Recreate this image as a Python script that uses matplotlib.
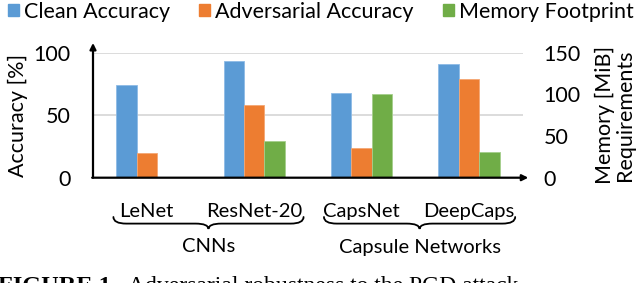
import matplotlib
matplotlib.use("Agg")
import matplotlib.pyplot as plt
import numpy as np
from matplotlib.patches import Patch, PathPatch
from matplotlib.path import Path
import matplotlib.transforms as mtransforms

# ---- data ----
models = ["LeNet", "ResNet-20", "CapsNet", "DeepCaps"]
clean_acc = [74, 93, 68, 91]
adv_acc = [20, 58, 24, 79]
memory_mib = [0.3, 44, 101, 31]
groups = ["CNNs", "Capsule Networks"]
acc_ticks = [0, 50, 100]
mem_ticks = [0, 50, 100, 150]

C_BLUE = "#5B9BD5"
C_ORANGE = "#ED7D31"
C_GREEN = "#70AD47"
FONT = "Lato"
FS = 15.5
FS_X = 14.5

plt.rcParams["font.family"] = [FONT, "DejaVu Sans"]

W, H = 640, 283
fig = plt.figure(figsize=(W / 100, H / 100), dpi=100)
x0, x1, ybot, ytop = 93, 522.7, 177.7, 52.7
ax = fig.add_axes([x0 / W, 1 - ybot / H, (x1 - x0) / W, (ybot - ytop) / H])
ax2 = ax.twinx()

x = np.arange(len(models))
w = 0.19
ax.bar(x - w, clean_acc, w, color=C_BLUE, edgecolor="#8dbbe6", linewidth=0.6, zorder=3)
ax.bar(x, adv_acc, w, color=C_ORANGE, edgecolor="#f4a774", linewidth=0.6, zorder=3)
ax2.bar(x + w, memory_mib, w, color=C_GREEN, edgecolor="#a5cf8c", linewidth=0.6, zorder=3)

ax.set_xlim(-0.5, len(models) - 0.5)
ax.set_ylim(0, 100)
ax2.set_ylim(0, 150)
ax.set_yticks(acc_ticks)
ax2.set_yticks(mem_ticks)
ax.yaxis.grid(True, color="#d9d9d9", lw=1.3, zorder=0)
ax.set_axisbelow(True)
for a in (ax, ax2):
    for s in a.spines.values():
        s.set_visible(False)
ax.tick_params(axis="y", length=0, pad=16, labelsize=FS)
ax2.tick_params(axis="y", length=0, pad=15, labelsize=FS)
ax.set_xticks(x)
ax.set_xticklabels(models)
ax.tick_params(axis="x", length=0, pad=18, labelsize=FS_X)

ax.set_ylabel("Accuracy [%]", fontsize=FS, labelpad=4)
ax2.set_ylabel("Memory [MiB]\nRequirements", fontsize=FS, labelpad=10, linespacing=1.0)

# axis arrows
arrow = dict(arrowstyle="-|>", lw=1.6, color="black", mutation_scale=9, shrinkA=0, shrinkB=0)
ax2.annotate("", xy=(0, 1.078), xytext=(0, 0), xycoords="axes fraction",
             arrowprops=arrow, annotation_clip=False)
ax2.annotate("", xy=(1.013, 0), xytext=(-0.002, 0), xycoords="axes fraction",
             arrowprops=arrow, annotation_clip=False)

# braces
trans = mtransforms.blended_transform_factory(ax.transData, ax.transAxes)
def brace(xa, xb, ytop_ax, h):
    xm = (xa + xb) / 2
    r = 0.12
    ymid = ytop_ax - h * 0.55
    ybtm = ytop_ax - h
    verts = [(xa, ytop_ax), (xa, ymid), (xa + r, ymid),
             (xm - r, ymid),
             (xm, ymid), (xm, ybtm),
             (xm, ymid), (xm + r, ymid),
             (xb - r, ymid),
             (xb, ymid), (xb, ytop_ax)]
    codes = [Path.MOVETO, Path.CURVE3, Path.CURVE3,
             Path.LINETO,
             Path.CURVE3, Path.CURVE3,
             Path.CURVE3, Path.CURVE3,
             Path.LINETO,
             Path.CURVE3, Path.CURVE3]
    p = PathPatch(Path(verts, codes), transform=trans, fill=False, lw=1.3,
                  color="black", clip_on=False, capstyle="round")
    ax.add_patch(p)

ypx2ax = lambda py: (ybot - py) / (ybot - ytop)
brace(-0.31, 1.46, ypx2ax(217), (229 - 217) / (ybot - ytop))
brace(1.65, 3.43, ypx2ax(217), (229 - 217) / (ybot - ytop))
ax.text(0.575, ypx2ax(247), groups[0], transform=trans, ha="center", va="center", fontsize=FS_X)
ax.text(2.54, ypx2ax(247), groups[1], transform=trans, ha="center", va="center", fontsize=FS_X)

# legend
handles = [Patch(color=C_BLUE, label="Clean Accuracy"),
           Patch(color=C_ORANGE, label="Adversarial Accuracy"),
           Patch(color=C_GREEN, label="Memory Footprint")]
fig.legend(handles=handles, loc="center left", bbox_to_anchor=(8 / W, 1 - 12 / H),
           ncol=3, frameon=False, fontsize=FS, handlelength=0.5, handleheight=0.5,
           handletextpad=0.25, columnspacing=1.35, borderpad=0, borderaxespad=0)

# caption (cut off at bottom, as in the source image)
fig.text(-2 / W, 1 - 292 / H, "FIGURE 1.", fontsize=17.5, family="Liberation Serif",
         weight="bold", va="baseline", ha="left")
fig.text(128 / W, 1 - 292 / H, "Adversarial robustness to the PGD attack", fontsize=17,
         family="Liberation Serif", va="baseline", ha="left")

fig.savefig("out.png", dpi=100)
